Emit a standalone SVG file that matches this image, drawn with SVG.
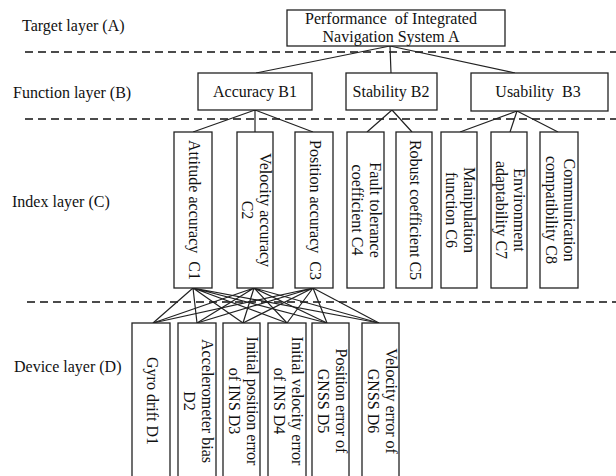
<svg xmlns="http://www.w3.org/2000/svg" width="616" height="476" viewBox="0 0 616 476">
<style>
.t{font-family:"Liberation Serif","Times New Roman",serif;font-size:16px;fill:#111}
.box{fill:#fff;stroke:#222;stroke-width:1.3}
.dash{stroke:#111;stroke-width:1.3;stroke-dasharray:8 5;fill:none}
.conn{stroke:#222;stroke-width:1.2;fill:none}
</style>
<rect width="616" height="476" fill="#fff"/>
<g id="layers">
<text class="t" x="22" y="31">Target layer (A)</text>
<text class="t" x="13" y="98">Function layer (B)</text>
<text class="t" x="12" y="207">Index layer (C)</text>
<text class="t" x="14" y="372">Device layer (D)</text>
<line class="dash" x1="25" y1="52" x2="616" y2="52"/>
<line class="dash" x1="25" y1="119" x2="616" y2="119"/>
<line class="dash" x1="27" y1="302" x2="616" y2="302"/>
</g>
<g id="connectors">
<path class="conn" d="M390,46 L256,73 M390,46 L391,73 M390,46 L515,73"/>
<path class="conn" d="M255,110 L193,132 M255,110 L255,132 M255,110 L313,132"/>
<path class="conn" d="M392,110 L367,132 M392,110 L412,132"/>
<path class="conn" d="M517,111 L460,132 M517,111 L510,132 M517,111 L558,132"/>
<path class="conn" d="M193,288 L153,323 M193,288 L197,323 M193,288 L243,323 M193,288 L287,323 M193,288 L327,323 M193,288 L379,323"/>
<path class="conn" d="M254,288 L153,323 M254,288 L197,323 M254,288 L243,323 M254,288 L287,323 M254,288 L327,323 M254,288 L379,323"/>
<path class="conn" d="M313,288 L153,323 M313,288 L197,323 M313,288 L243,323 M313,288 L287,323 M313,288 L327,323 M313,288 L379,323"/>
</g>
<g id="A">
<rect class="box" x="287" y="10" width="218" height="36"/>
<text class="t" x="391" y="24" text-anchor="middle" xml:space="preserve">Performance  of Integrated</text>
<text class="t" x="391" y="42" text-anchor="middle">Navigation System A</text>
</g>
<g id="B1">
<rect class="box" x="198" y="73" width="114" height="37"/>
<text class="t" x="255" y="97" text-anchor="middle">Accuracy B1</text>
</g>
<g id="B2">
<rect class="box" x="346" y="73" width="91" height="37"/>
<text class="t" x="391" y="97" text-anchor="middle">Stability B2</text>
</g>
<g id="B3">
<rect class="box" x="471" y="73" width="137" height="38"/>
<text class="t" x="538" y="97" text-anchor="middle" xml:space="preserve">Usability  B3</text>
</g>
<g id="C1">
<rect class="box" x="174" y="132" width="38" height="156"/>
<g transform="translate(193,210) rotate(90)"><text class="t" text-anchor="middle" y="4.5" xml:space="preserve">Attitude accuracy  C1</text></g>
</g>
<g id="C2">
<rect class="box" x="237" y="132" width="36" height="156"/>
<g transform="translate(255,210) rotate(90)"><text class="t" text-anchor="middle" y="-4.5">Velocity accuracy</text><text class="t" text-anchor="middle" y="13.5">C2</text></g>
</g>
<g id="C3">
<rect class="box" x="295" y="132" width="38" height="156"/>
<g transform="translate(314,210) rotate(90)"><text class="t" text-anchor="middle" y="4.5" xml:space="preserve">Position accuracy  C3</text></g>
</g>
<g id="C4">
<rect class="box" x="347" y="132" width="37" height="156"/>
<g transform="translate(365.5,210) rotate(90)"><text class="t" text-anchor="middle" y="-4.5">Fault tolerance</text><text class="t" text-anchor="middle" y="13.5">coefficient C4</text></g>
</g>
<g id="C5">
<rect class="box" x="396" y="132" width="36" height="156"/>
<g transform="translate(414,210) rotate(90)"><text class="t" text-anchor="middle" y="4.5">Robust coefficient C5</text></g>
</g>
<g id="C6">
<rect class="box" x="441" y="132" width="36" height="156"/>
<g transform="translate(459,210) rotate(90)"><text class="t" text-anchor="middle" y="-4.5">Manipulation</text><text class="t" text-anchor="middle" y="13.5">function C6</text></g>
</g>
<g id="C7">
<rect class="box" x="491" y="132" width="36" height="156"/>
<g transform="translate(509,210) rotate(90)"><text class="t" text-anchor="middle" y="-4.5">Environment</text><text class="t" text-anchor="middle" y="13.5">adaptability C7</text></g>
</g>
<g id="C8">
<rect class="box" x="540" y="132" width="38" height="156"/>
<g transform="translate(559,210) rotate(90)"><text class="t" text-anchor="middle" y="-4.5">Communication</text><text class="t" text-anchor="middle" y="13.5">compatibility C8</text></g>
</g>
<g id="D1">
<rect class="box" x="132" y="323" width="38" height="160"/>
<g transform="translate(151,401) rotate(90)"><text class="t" text-anchor="middle" y="4.5">Gyro drift D1</text></g>
</g>
<g id="D2">
<rect class="box" x="178" y="323" width="38" height="160"/>
<g transform="translate(197,401) rotate(90)"><text class="t" text-anchor="middle" y="-4.5">Accelerometer bias</text><text class="t" text-anchor="middle" y="13.5">D2</text></g>
</g>
<g id="D3">
<rect class="box" x="223" y="323" width="37" height="160"/>
<g transform="translate(242,401) rotate(90)"><text class="t" text-anchor="middle" y="-4.5">Initial position error</text><text class="t" text-anchor="middle" y="13.5">of INS D3</text></g>
</g>
<g id="D4">
<rect class="box" x="268" y="323" width="38" height="160"/>
<g transform="translate(287,401) rotate(90)"><text class="t" text-anchor="middle" y="-4.5">Initial velocity error</text><text class="t" text-anchor="middle" y="13.5">of INS D4</text></g>
</g>
<g id="D5">
<rect class="box" x="312" y="323" width="37" height="160"/>
<g transform="translate(331,401) rotate(90)"><text class="t" text-anchor="middle" y="-4.5">Position error of</text><text class="t" text-anchor="middle" y="13.5">GNSS D5</text></g>
</g>
<g id="D6">
<rect class="box" x="362" y="323" width="37" height="160"/>
<g transform="translate(381,401) rotate(90)"><text class="t" text-anchor="middle" y="-4.5">Velocity error of</text><text class="t" text-anchor="middle" y="13.5">GNSS D6</text></g>
</g>
</svg>
